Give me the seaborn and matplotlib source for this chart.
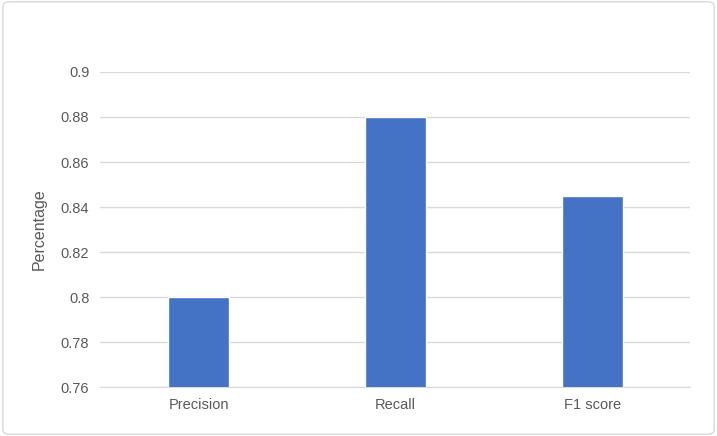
import matplotlib
matplotlib.use("Agg")
import matplotlib.pyplot as plt
import seaborn as sns
import pandas as pd
from matplotlib.patches import FancyBboxPatch

categories = ["Precision", "Recall", "F1 score"]
values = [0.80, 0.88, 0.845]
yticks = [0.76, 0.78, 0.80, 0.82, 0.84, 0.86, 0.88, 0.90]
ytick_labels = ["0.76", "0.78", "0.8", "0.82", "0.84", "0.86", "0.88", "0.9"]

sns.set_style("white")
plt.rcParams['font.family'] = ['Liberation Sans', 'DejaVu Sans']

fig = plt.figure(figsize=(7.17, 4.36), dpi=100)
fig.patches.append(FancyBboxPatch((0.004, 0.004), 0.992, 0.992, boxstyle="round,pad=0,rounding_size=0.01",
                                  transform=fig.transFigure, fill=False, edgecolor="#d9d9d9", linewidth=1))
ax = fig.add_axes([0.140, 0.112, 0.823, 0.723])
df = pd.DataFrame({"cat": categories, "val": values})
sns.barplot(data=df, x="cat", y="val", color="#4472C4", saturation=1, width=0.31, ax=ax, zorder=3)
ax.set_ylim(0.76, 0.90)
ax.set_yticks(yticks)
ax.set_yticklabels(ytick_labels)
ax.yaxis.grid(True, color="#d9d9d9", linewidth=1, zorder=0)
for s in ["top", "right", "left"]:
    ax.spines[s].set_visible(False)
ax.spines["bottom"].set_color("#d9d9d9")
ax.tick_params(axis="both", colors="#595959", labelsize=10.5, length=0, pad=8)
ax.set_xlabel("")
ax.set_ylabel("Percentage", color="#595959", fontsize=11.5, labelpad=10)
fig.savefig("out.png", dpi=100)
